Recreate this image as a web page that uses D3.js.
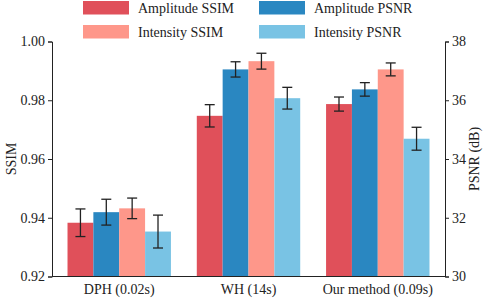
<!DOCTYPE html>
<html><head><meta charset="utf-8">
<script src="https://cdn.jsdelivr.net/npm/d3@7"></script>
<style>body{margin:0;background:#fff}svg{display:block}text{font-family:"Liberation Serif","Times New Roman",serif;fill:#222}</style>
</head><body><svg id="c" width="484" height="300"></svg>
<script>
const groups = ["DPH (0.02s)", "WH (14s)", "Our method (0.09s)"];
const seriesNames = ["Amplitude SSIM", "Amplitude PSNR", "Intensity SSIM", "Intensity PSNR"];
const seriesAxis = ["left", "right", "left", "right"];
const seriesColors = ["#e0505a", "#2a87c1", "#fe978a", "#79c3e4"];
const ampSSIM = [0.9383, 0.9747, 0.9787];
const ampSSIMErr = [0.0047, 0.0038, 0.0024];
const ampPSNR = [32.19, 37.05, 36.37];
const ampPSNRErr = [0.44, 0.26, 0.23];
const intSSIM = [0.9432, 0.9933, 0.9905];
const intSSIMErr = [0.0035, 0.0027, 0.0022];
const intPSNR = [31.53, 36.07, 34.69];
const intPSNRErr = [0.56, 0.37, 0.39];
const leftTicks = [0.92, 0.94, 0.96, 0.98, 1.00];
const rightTicks = [30, 32, 34, 36, 38];

const values = [ampSSIM, ampPSNR, intSSIM, intPSNR];
const errs = [ampSSIMErr, ampPSNRErr, intSSIMErr, intPSNRErr];

const svg = d3.select("#c");
const pTop = 41.5, pBottom = 276.5, pLeft = 52, pRight = 445;
const yL = d3.scaleLinear().domain([0.92, 1.00]).range([pBottom, pTop]);
const yR = d3.scaleLinear().domain([30, 38]).range([pBottom, pTop]);
const x0 = d3.scaleBand().domain(groups).range([pLeft, pRight]).paddingInner(0.2).paddingOuter(0.12);
const x1 = d3.scaleBand().domain(seriesNames).range([0, x0.bandwidth()]);

const data = [];
groups.forEach((g, gi) => seriesNames.forEach((s, si) => {
  data.push({g, s, si, v: values[si][gi], e: errs[si][gi], y: seriesAxis[si] === "left" ? yL : yR});
}));

const gBars = svg.append("g");
gBars.selectAll("rect").data(data).join("rect")
  .attr("x", d => x0(d.g) + x1(d.s))
  .attr("width", x1.bandwidth())
  .attr("y", d => d.y(d.v))
  .attr("height", d => pBottom - d.y(d.v))
  .attr("fill", d => seriesColors[d.si]);

const gErr = svg.append("g").attr("stroke", "#222").attr("stroke-width", 1.3);
const cap = 5;
data.forEach(d => {
  const cx = x0(d.g) + x1(d.s) + x1.bandwidth() / 2;
  const y1 = d.y(d.v + d.e), y2 = d.y(d.v - d.e);
  gErr.append("line").attr("x1", cx).attr("x2", cx).attr("y1", y1).attr("y2", y2);
  gErr.append("line").attr("x1", cx - cap).attr("x2", cx + cap).attr("y1", y1).attr("y2", y1);
  gErr.append("line").attr("x1", cx - cap).attr("x2", cx + cap).attr("y1", y2).attr("y2", y2);
});

function styleAxis(g) {
  g.selectAll("path,line").attr("stroke", "#222").attr("stroke-width", 1);
  g.selectAll("text").attr("font-size", 14).attr("font-family", "Liberation Serif").attr("fill", "#222");
}
const axL = svg.append("g").attr("transform", `translate(${pLeft},0)`)
  .call(d3.axisLeft(yL).tickValues(leftTicks).tickFormat(d3.format(".2f")).tickSizeOuter(0).tickSize(4).tickPadding(3));
styleAxis(axL);
const axR = svg.append("g").attr("transform", `translate(${pRight},0)`)
  .call(d3.axisRight(yR).tickValues(rightTicks).tickFormat(d3.format("d")).tickSizeOuter(0).tickSize(4).tickPadding(3));
styleAxis(axR);
const axB = svg.append("g").attr("transform", `translate(0,${pBottom})`)
  .call(d3.axisBottom(x0).tickSize(0).tickPadding(8));
axB.select(".domain").attr("d", `M${pLeft},0H${pRight}`);
styleAxis(axB);

svg.append("text").attr("transform", `translate(16,${(pTop+pBottom)/2}) rotate(-90)`)
  .attr("text-anchor", "middle").attr("font-size", 14).text("SSIM");
svg.append("text").attr("transform", `translate(479,${(pTop+pBottom)/2}) rotate(-90)`)
  .attr("text-anchor", "middle").attr("font-size", 14).text("PSNR (dB)");

// legend
const legendPos = [[83, 1], [259, 1], [83, 25], [259, 25]];
seriesNames.forEach((s, i) => {
  const [lx, ly] = legendPos[i];
  svg.append("rect").attr("x", lx).attr("y", ly).attr("width", 46).attr("height", 13.5).attr("fill", seriesColors[i]);
  svg.append("text").attr("x", lx + 55).attr("y", ly + 12).attr("font-size", 14).text(s);
});
</script></body></html>
